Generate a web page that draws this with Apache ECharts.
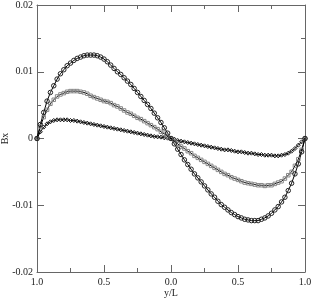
<!DOCTYPE html>
<html>
<head>
<meta charset="utf-8">
<script src="https://cdn.jsdelivr.net/npm/echarts@6/dist/echarts.min.js"></script>
<style>html,body{margin:0;padding:0;background:#fff}#c{width:313px;height:299px}</style>
</head>
<body>
<div id="c"></div>
<script>
var xs = [-1, -0.975, -0.95, -0.925, -0.9, -0.875, -0.85, -0.825, -0.8, -0.775,
  -0.75, -0.725, -0.7, -0.675, -0.65, -0.625, -0.6, -0.575, -0.55, -0.525,
  -0.5, -0.475, -0.45, -0.425, -0.4, -0.375, -0.35, -0.325, -0.3, -0.275,
  -0.25, -0.225, -0.2, -0.175, -0.15, -0.125, -0.1, -0.075, -0.05, -0.025,
  0,
  0.025, 0.05, 0.075, 0.1, 0.125, 0.15, 0.175, 0.2, 0.225, 0.25,
  0.275, 0.3, 0.325, 0.35, 0.375, 0.4, 0.425, 0.45, 0.475, 0.5,
  0.525, 0.55, 0.575, 0.6, 0.625, 0.65, 0.675, 0.7, 0.725, 0.75,
  0.775, 0.8, 0.825, 0.85, 0.875, 0.9, 0.925, 0.95, 0.975, 1];

var circleSeries = [0, 0.0021, 0.0039, 0.0056, 0.0069, 0.0079, 0.0089, 0.0097, 0.0103, 0.0109,
  0.0113, 0.0117, 0.0120, 0.0122, 0.0124, 0.0125, 0.0125, 0.0125, 0.0124, 0.0122,
  0.0119, 0.0115, 0.0110, 0.0105, 0.0100, 0.0096, 0.0091, 0.0086, 0.0081, 0.0075,
  0.0069, 0.0063, 0.0057, 0.0051, 0.0045, 0.0038, 0.0031, 0.0024, 0.0016, 0.0008,
  0,
  -0.0008, -0.0016, -0.0024, -0.0032, -0.0039, -0.0046, -0.0053, -0.0059, -0.0065, -0.0071,
  -0.0077, -0.0083, -0.0088, -0.0094, -0.0099, -0.0103, -0.0107, -0.0111, -0.0114, -0.0117,
  -0.0119, -0.0121, -0.0122, -0.0123, -0.0123, -0.0123, -0.0121, -0.0119, -0.0116, -0.0112,
  -0.0107, -0.0102, -0.0095, -0.0088, -0.0078, -0.0067, -0.0053, -0.0038, -0.0020, 0];

var squareSeries = [0, 0.0018, 0.0032, 0.0043, 0.0052, 0.0058, 0.0063, 0.0066, 0.0068, 0.0070,
  0.0071, 0.0071, 0.0071, 0.0070, 0.0069, 0.0067, 0.0064, 0.0062, 0.0060, 0.0058,
  0.0056, 0.0055, 0.0053, 0.0050, 0.0048, 0.0045, 0.0042, 0.0039, 0.0037, 0.0034,
  0.0031, 0.0029, 0.0026, 0.0023, 0.0020, 0.0017, 0.0014, 0.0010, 0.0007, 0.0003,
  0,
  -0.0004, -0.0008, -0.0012, -0.0015, -0.0019, -0.0022, -0.0026, -0.0029, -0.0032, -0.0035,
  -0.0038, -0.0041, -0.0044, -0.0047, -0.0050, -0.0053, -0.0055, -0.0058, -0.0060, -0.0062,
  -0.0064, -0.0066, -0.0067, -0.0068, -0.0069, -0.0070, -0.0070, -0.0071, -0.0070, -0.0070,
  -0.0068, -0.0066, -0.0064, -0.0060, -0.0055, -0.0050, -0.0041, -0.0031, -0.0017, 0];

var diamondSeries = [0, 0.0010, 0.0017, 0.0022, 0.0025, 0.0027, 0.0028, 0.0028, 0.0028, 0.0028,
  0.0027, 0.0027, 0.0026, 0.0025, 0.0024, 0.0023, 0.0022, 0.0021, 0.0020, 0.0019,
  0.0018, 0.0017, 0.0016, 0.0015, 0.0014, 0.0013, 0.0012, 0.0011, 0.0010, 0.0009,
  0.0008, 0.0007, 0.0006, 0.0005, 0.0004, 0.0003, 0.00025, 0.0002, 0.0001, 0.00005,
  0,
  -0.0001, -0.0003, -0.0004, -0.0005, -0.0006, -0.0007, -0.0008, -0.0009, -0.0010, -0.0011,
  -0.0012, -0.0013, -0.0014, -0.0015, -0.0016, -0.0017, -0.0017, -0.0018, -0.0019, -0.0020,
  -0.0020, -0.0021, -0.0022, -0.0022, -0.0023, -0.0024, -0.0024, -0.0025, -0.0025, -0.0025,
  -0.0026, -0.0026, -0.0025, -0.0024, -0.0022, -0.0019, -0.0015, -0.0010, -0.0005, 0];

var xTickLabels = ["1.0", "0.5", "0.0", "0.5", "1.0"];
var yTickLabels = ["-0.02", "-0.01", "0", "0.01", "0.02"];
var xName = "y/L";
var yName = "Bx";

function pairs(ys) { return xs.map(function (x, i) { return [x, ys[i]]; }); }

var FONT = "Liberation Serif";
var AX = "#666";
var tickCommon = { show: true, inside: true, length: 7, lineStyle: { color: AX, width: 1 } };
var minorCommon = { show: true, splitNumber: 2, length: 4, lineStyle: { color: AX, width: 1 } };

function xAx(pos, showLabel) {
  return {
    type: "value", position: pos, min: -1, max: 1, interval: 0.5,
    axisLine: { show: true, onZero: false, lineStyle: { color: AX, width: 1 } },
    axisTick: tickCommon, minorTick: minorCommon,
    splitLine: { show: false }, minorSplitLine: { show: false },
    axisLabel: {
      show: showLabel, margin: 5, fontFamily: FONT, fontSize: 10, color: "#222",
      formatter: function (v) { return xTickLabels[Math.round((v + 1) / 0.5)]; }
    },
    name: showLabel ? xName : "", nameLocation: "middle", nameGap: 16, nameMoveOverlap: false,
    nameTextStyle: { fontFamily: FONT, fontSize: 10, color: "#222" }
  };
}
function yAx(pos, showLabel) {
  return {
    type: "value", position: pos, min: -0.02, max: 0.02, interval: 0.01,
    axisLine: { show: true, onZero: false, lineStyle: { color: AX, width: 1 } },
    axisTick: tickCommon, minorTick: minorCommon,
    splitLine: { show: false }, minorSplitLine: { show: false },
    axisLabel: {
      show: showLabel, margin: 4, fontFamily: FONT, fontSize: 10, color: "#222",
      formatter: function (v) { return yTickLabels[Math.round((v + 0.02) / 0.01)]; }
    },
    name: showLabel ? yName : "", nameLocation: "middle", nameGap: 27, nameRotate: 90, nameMoveOverlap: false,
    nameTextStyle: { fontFamily: FONT, fontSize: 10, color: "#222" }
  };
}

function ser(ys, symbol, size, border) {
  return {
    type: "line", xAxisIndex: 0, yAxisIndex: 0, data: pairs(ys),
    symbol: symbol, symbolSize: size, showAllSymbol: true, showSymbol: true,
    itemStyle: { color: "transparent", borderColor: border, borderWidth: 1 },
    lineStyle: { color: "#000", width: 1 },
    emphasis: { disabled: true }
  };
}

var chart = echarts.init(document.getElementById("c"), null, { renderer: "canvas" });
chart.setOption({
  animation: false,
  backgroundColor: "#fff",
  grid: { left: 37, top: 5, width: 268, height: 267, containLabel: false, outerBoundsMode: "none" },
  xAxis: [xAx("bottom", true), xAx("top", false)],
  yAxis: [yAx("left", true), yAx("right", false)],
  series: [
    ser(diamondSeries, "diamond", 4, "#111"),
    ser(squareSeries, "rect", 3.5, "#888"),
    ser(circleSeries, "circle", 4.5, "#222")
  ]
});
</script>
</body>
</html>
